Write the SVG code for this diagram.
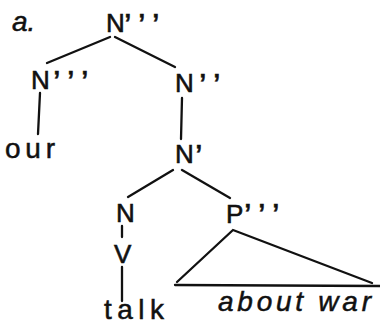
<svg xmlns="http://www.w3.org/2000/svg" width="380" height="326" viewBox="0 0 380 326">
<style>
.t{font-family:"Liberation Sans",Arial,sans-serif;font-size:26px;fill:#111;stroke:#111;stroke-width:0.6}
.l{font-family:"Liberation Sans",Arial,sans-serif;font-size:28px;fill:#111;stroke:#111;stroke-width:0.5}
.p{font-family:"Liberation Sans",Arial,sans-serif;font-size:34px;fill:#111;stroke:#111;stroke-width:0.6;letter-spacing:7px}
.w{font-family:"Liberation Sans",Arial,sans-serif;font-size:28px;fill:#111;font-style:italic;stroke:#111;stroke-width:0.5}
.e{stroke:#111;stroke-width:2.3;fill:none;stroke-linecap:round}
</style>
<rect width="380" height="326" fill="#fff"/>
<text class="w" x="12" y="31">a.</text>
<g id="n-root"><text class="t" x="106" y="32">N</text><text class="p" x="124" y="37">’’’</text></g>
<g id="n-left"><text class="t" x="31" y="89">N</text><text class="p" x="53" y="94">’’’</text></g>
<g id="n-our"><text class="l" x="5" y="158" textLength="50" lengthAdjust="spacing">our</text></g>
<g id="n-n2"><text class="t" x="175" y="92">N</text><text class="p" x="199" y="97">’’</text></g>
<g id="n-n1"><text class="t" x="175" y="163">N</text><text class="p" x="195" y="168">’</text></g>
<g id="n-N"><text class="t" x="116" y="222">N</text></g>
<g id="n-V"><text class="t" x="114" y="263">V</text></g>
<g id="n-talk"><text class="l" x="104" y="319" font-size="26" textLength="60" lengthAdjust="spacing">talk</text></g>
<g id="n-P"><text class="t" x="226" y="223">P</text><text class="p" x="244" y="227">’’’</text></g>
<g id="n-about"><text class="w" x="218" y="311" textLength="153" lengthAdjust="spacing">about war</text></g>
<g id="edges">
<line class="e" x1="110" y1="37" x2="47" y2="63"/>
<line class="e" x1="115" y1="37" x2="175" y2="67"/>
<line class="e" x1="40" y1="93" x2="38" y2="134"/>
<line class="e" x1="182" y1="98" x2="181" y2="139"/>
<line class="e" x1="173" y1="170" x2="128" y2="197"/>
<line class="e" x1="182" y1="170" x2="230" y2="198"/>
<line class="e" x1="122" y1="226" x2="122" y2="237"/>
<line class="e" x1="122" y1="267" x2="122" y2="301"/>
<polyline class="e" points="177,282 233,230 372,283"/>
<line class="e" x1="175" y1="285" x2="380" y2="286" stroke-width="2.6"/>
</g>
</svg>
